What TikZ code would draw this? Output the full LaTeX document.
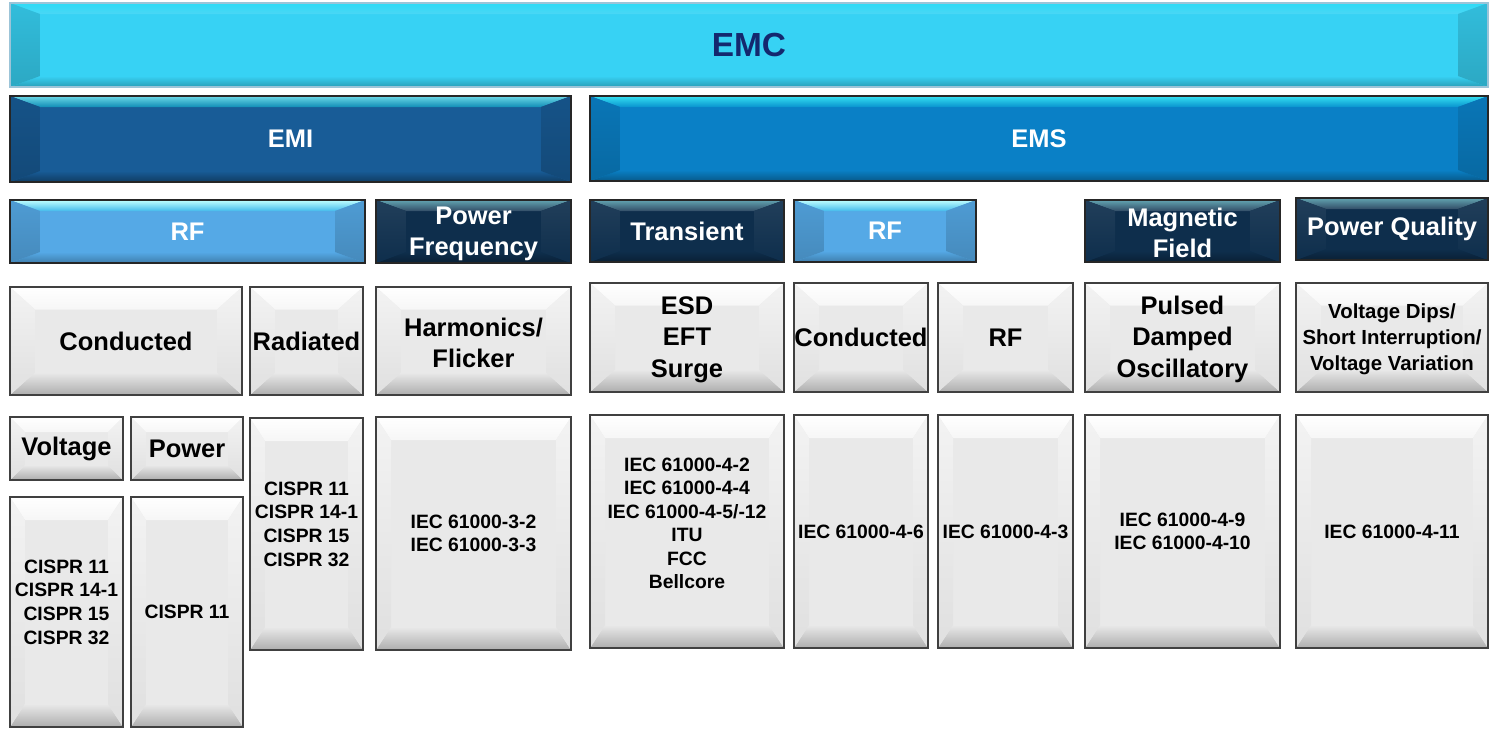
\documentclass[tikz,border=0pt]{standalone}
\usepackage{fontspec}
\setmainfont{Liberation Sans}
\usepackage{tikz}

\definecolor{emcface}{HTML}{37D2F4}
\definecolor{emiface}{HTML}{185C97}
\definecolor{emsface}{HTML}{0A80C6}
\definecolor{rfface}{HTML}{55A9E6}
\definecolor{dkface}{HTML}{0E2E4C}
\definecolor{gyface}{HTML}{E9E9E9}
\definecolor{navytext}{HTML}{14286E}
\definecolor{emcline}{HTML}{9CC4D8}

\tikzset{
  box/.style 2 args={anchor=north west,inner sep=0pt,outer sep=0pt,align=center,
    minimum width=#1*0.02cm,minimum height=#2*0.02cm,line width=0.8pt},
  bevel/.style 2 args={path picture={
    \path (path picture bounding box.south west) coordinate (bsw)
          (path picture bounding box.north east) coordinate (bne);
    \shade[bv top] (bsw|-bne) -- (bne) -- ([shift={(-#1,-#2)}]bne)
          -- ([shift={(#1,-#2)}]bsw|-bne) -- cycle;
    \shade[bv bot] (bsw) -- (bsw-|bne) -- ([shift={(-#1,#2)}]bsw-|bne)
          -- ([shift={(#1,#2)}]bsw) -- cycle;
    \shade[bv side] (bsw) -- ([shift={(#1,#2)}]bsw) -- ([shift={(#1,-#2)}]bsw|-bne)
          -- (bsw|-bne) -- cycle;
    \shade[bv side] (bne) -- ([shift={(-#1,-#2)}]bne) -- ([shift={(-#1,#2)}]bsw-|bne)
          -- (bsw-|bne) -- cycle;
  }},
  emcbox/.style={fill=emcface,draw=emcline,text=navytext,
    font=\fontsize{19}{23}\selectfont\bfseries,bevel={0.6cm}{0.22cm},
    bv top/.style={top color=cyan!20!emcface,bottom color=emcface!90!white},
    bv bot/.style={top color=emcface,bottom color=emcface!75!black},
    bv side/.style={top color=emcface!90!black,bottom color=emcface!80!black}},
  emibox/.style={fill=emiface,draw=black!85,text=white,
    font=\fontsize{14.5}{17.5}\selectfont\bfseries,bevel={0.6cm}{0.22cm},
    bv top/.style={top color=emiface!40!cyan!60!white,bottom color=emiface!70!cyan},
    bv bot/.style={top color=emiface,bottom color=emiface!65!black},
    bv side/.style={top color=emiface!90!black,bottom color=emiface!80!black}},
  emsbox/.style={fill=emsface,draw=black!85,text=white,
    font=\fontsize{14.5}{17.5}\selectfont\bfseries,bevel={0.6cm}{0.22cm},
    bv top/.style={top color=emsface!30!cyan!80!white,bottom color=emsface!85!cyan},
    bv bot/.style={top color=emsface,bottom color=emsface!70!black},
    bv side/.style={top color=emsface!92!black,bottom color=emsface!82!black}},
  rfbox/.style={fill=rfface,draw=black!85,text=white,
    font=\fontsize{14.5}{17.5}\selectfont\bfseries,bevel={0.6cm}{0.22cm},
    bv top/.style={top color=cyan!25!white,bottom color=rfface!80!cyan},
    bv bot/.style={top color=rfface,bottom color=rfface!75!black},
    bv side/.style={top color=rfface!92!black,bottom color=rfface!82!black}},
  dkbox/.style={fill=dkface,draw=black!85,text=white,
    font=\fontsize{14.5}{17.5}\selectfont\bfseries,bevel={0.6cm}{0.22cm},
    bv top/.style={top color=dkface!55!white!80!cyan,bottom color=dkface!85!white},
    bv bot/.style={top color=dkface,bottom color=dkface!70!black},
    bv side/.style={top color=dkface!92!white,bottom color=dkface}},
  gybox/.style={fill=gyface,draw=black!75,text=black,
    font=\fontsize{14.5}{17.5}\selectfont\bfseries,
    bv top/.style={top color=white,bottom color=gyface!40!white},
    bv bot/.style={top color=gyface,bottom color=black!32},
    bv side/.style={top color=gyface!55!white,bottom color=gyface!96!black}},
  midbox/.style={gybox,bevel={0.5cm}{0.45cm}},
  lowbox/.style={gybox,bevel={0.3cm}{0.3cm}},
  tallbox/.style={gybox,bevel={0.3cm}{0.46cm},font=\fontsize{11}{13.4}\selectfont\bfseries},
}

\begin{document}
\begin{tikzpicture}[x=0.02cm,y=-0.02cm]
  \useasboundingbox (0,0) rectangle (1492,728);
  % top levels
  \node[emcbox,box={1478}{84}] (emc) at (10,3) {EMC};
  \node[emibox,box={561}{86}] (emi) at (10,96) {EMI};
  \node[emsbox,box={898}{85}] (ems) at (590,96) {EMS};
  % phenomena
  \node[rfbox,box={355}{63}] (emirf) at (10,200) {RF};
  \node[dkbox,box={195}{63}] (pwrfreq) at (376,200) {\strut Power\\Frequency};
  \node[dkbox,box={194}{62}] (transient) at (590,200) {Transient};
  \node[rfbox,box={182}{62}] (emsrf) at (794,200) {RF};
  \node[dkbox,box={195}{62}] (magfield) at (1085,200) {\strut Magnetic\\Field};
  \node[dkbox,box={192}{62}] (pwrqual) at (1296,198) {Power Quality};
  % test types
  \node[midbox,box={232}{108}] (emicond) at (10,287) {Conducted};
  \node[midbox,box={113}{108}] (emirad) at (250,287) {Radiated};
  \node[midbox,box={195}{108}] (harm) at (376,287) {\strut Harmonics/\\Flicker};
  \node[midbox,box={194}{109},font=\fontsize{14.5}{18}\selectfont\bfseries] (esd) at (590,283) {\strut ESD\\EFT\\Surge};
  \node[midbox,box={134}{109}] (emscond) at (794,283) {Conducted};
  \node[midbox,box={135}{109}] (emsrad) at (938,283) {RF};
  \node[midbox,box={195}{109},font=\fontsize{14.5}{18}\selectfont\bfseries] (pulsed) at (1085,283) {\strut Pulsed\\Damped\\Oscillatory};
  \node[midbox,box={192}{109},font=\fontsize{11.6}{14.7}\selectfont\bfseries] (dips) at (1296,283) {\strut Voltage Dips/\\Short Interruption/\\Voltage Variation};
  \node[lowbox,box={113}{63}] (voltage) at (10,417) {Voltage};
  \node[lowbox,box={112}{63}] (power) at (131,417) {Power};
  % standards
  \node[tallbox,box={113}{230}] (stdvolt) at (10,497) {CISPR 11\\CISPR 14-1\\CISPR 15\\CISPR 32\\[-2pt]~};
  \node[tallbox,box={112}{230}] (stdpwr) at (131,497) {CISPR 11};
  \node[tallbox,box={113}{232}] (stdrad) at (250,418) {CISPR 11\\CISPR 14-1\\CISPR 15\\CISPR 32\\[-2pt]~};
  \node[tallbox,box={195}{233}] (stdharm) at (376,417) {IEC 61000-3-2\\IEC 61000-3-3};
  \node[tallbox,box={194}{233}] (stdesd) at (590,415) {IEC 61000-4-2\\IEC 61000-4-4\\IEC 61000-4-5/-12\\ITU\\FCC\\Bellcore\\[-4pt]~};
  \node[tallbox,box={134}{233}] (stdcond) at (794,415) {IEC 61000-4-6};
  \node[tallbox,box={135}{233}] (stdrf) at (938,415) {IEC 61000-4-3};
  \node[tallbox,box={195}{233}] (stdpulse) at (1085,415) {IEC 61000-4-9\\IEC 61000-4-10};
  \node[tallbox,box={192}{233}] (stddips) at (1296,415) {IEC 61000-4-11};
\end{tikzpicture}
\end{document}
